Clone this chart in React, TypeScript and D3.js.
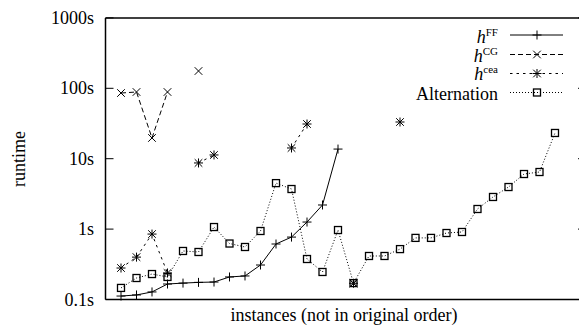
import React from "react";
import * as d3 from "d3";

const W = 579;
const H = 326;

const yTicks = [0.1, 1, 10, 100, 1000];
const yTickLabels = ["0.1s", "1s", "10s", "100s", "1000s"];

const hFF: (number | null)[] = [
  0.112, 0.116, 0.128, 0.166, 0.171, 0.175, 0.177, 0.209, 0.216, 0.309,
  0.614, 0.77, 1.26, 2.2, 13.7, null, null, null, null, null,
  null, null, null, null, null, null, null, null, null,
];
const hCG: (number | null)[] = [
  85.7, 88.6, 19.7, 88.6, null, 176, null, null, null, null,
  null, null, null, null, null, 0.17, null, null, null, null,
  null, null, null, null, null, null, null, null, null,
];
const hCea: (number | null)[] = [
  0.28, 0.4, 0.85, 0.238, null, 8.7, 11.3, null, null, null,
  null, 14.2, 31.1, null, null, 0.17, null, null, 33.2, null,
  null, null, null, null, null, null, null, null, null,
];
const alternation: (number | null)[] = [
  0.146, 0.202, 0.23, 0.209, 0.489, 0.473, 1.07, 0.624, 0.557, 0.94,
  4.5, 3.71, 0.376, 0.246, 0.97, 0.171, 0.415, 0.415, 0.52, 0.75,
  0.75, 0.88, 0.91, 1.93, 2.86, 3.96, 6.06, 6.47, 23.2,
];

const seriesNames = ["FF", "CG", "cea", "Alternation"];

type Marker = "plus" | "cross" | "star" | "square";

function MarkerShape({ type, x, y }: { type: Marker; x: number; y: number }) {
  const s = 4.5;
  const c = 3.8;
  const stroke = "#000";
  if (type === "plus") {
    return (
      <g stroke={stroke} strokeWidth={1}>
        <line x1={x - s} x2={x + s} y1={y} y2={y} />
        <line x1={x} x2={x} y1={y - s} y2={y + s} />
      </g>
    );
  }
  if (type === "cross") {
    return (
      <g stroke={stroke} strokeWidth={1}>
        <line x1={x - c} x2={x + c} y1={y - c} y2={y + c} />
        <line x1={x - c} x2={x + c} y1={y + c} y2={y - c} />
      </g>
    );
  }
  if (type === "star") {
    return (
      <g stroke={stroke} strokeWidth={1}>
        <line x1={x - s} x2={x + s} y1={y} y2={y} />
        <line x1={x} x2={x} y1={y - s} y2={y + s} />
        <line x1={x - c} x2={x + c} y1={y - c} y2={y + c} />
        <line x1={x - c} x2={x + c} y1={y + c} y2={y - c} />
      </g>
    );
  }
  const q = 3.5;
  return (
    <rect x={x - q} y={y - q} width={2 * q} height={2 * q} fill="none" stroke={stroke} strokeWidth={1.3} />
  );
}

export default function App() {
  const left = 105.5;
  const right = 586;
  const top = 17.9;
  const bottom = 299.5;

  const x = d3.scaleLinear().domain([-1, 30]).range([left, right]);
  const y = d3.scaleLog().domain([0.1, 1000]).range([bottom, top]);

  const series: { data: (number | null)[]; marker: Marker; dash: string }[] = [
    { data: hFF, marker: "plus", dash: "" },
    { data: hCG, marker: "cross", dash: "5,3" },
    { data: hCea, marker: "star", dash: "2.5,4" },
    { data: alternation, marker: "square", dash: "1,2" },
  ];

  const line = d3
    .line<number | null>()
    .defined((d) => d != null)
    .x((_, i) => x(i))
    .y((d) => y(d as number));

  const font = "'Liberation Serif', 'Times New Roman', serif";
  const legendRows = [35, 54.5, 73.5, 92.5];
  const textOffsets = [7.5, 7, 6, 7];

  return (
    <svg width={W} height={H} style={{ position: "absolute", left: 0, top: 0 }} fontFamily={font}>
      <rect width={W} height={H} fill="#fff" />
      <g stroke="#000" strokeWidth={1.5} fill="none">
        <line x1={left} x2={left} y1={top} y2={bottom} />
        <line x1={left} x2={right} y1={bottom} y2={bottom} />
        <line x1={left} x2={right} y1={top} y2={top} />
      </g>
      {yTicks.map((t, i) => (
        <g key={t}>
          <line x1={left} x2={left + 8} y1={y(t)} y2={y(t)} stroke="#000" strokeWidth={1} />
          <line x1={right - 8} x2={right} y1={y(t)} y2={y(t)} stroke="#000" strokeWidth={1} />
          <text x={94} y={y(t) + 6} textAnchor="end" fontSize={18} fill="#000">
            {yTickLabels[i]}
          </text>
        </g>
      ))}
      <text transform={`translate(25,159) rotate(-90)`} textAnchor="middle" fontSize={18} fill="#000">
        runtime
      </text>
      <text x={344} y={321} textAnchor="middle" fontSize={18} fill="#000">
        instances (not in original order)
      </text>
      {series.map((s, si) => (
        <g key={si}>
          <path d={line(s.data) || ""} fill="none" stroke="#000" strokeWidth={1} strokeDasharray={s.dash} />
          {s.data.map((d, i) =>
            d == null ? null : <MarkerShape key={i} type={s.marker} x={x(i)} y={y(d)} />
          )}
        </g>
      ))}
      {series.map((s, si) => {
        const ry = legendRows[si];
        return (
          <g key={"lg" + si}>
            {si < 3 ? (
              <text x={498} y={ry + textOffsets[si]} textAnchor="end" fill="#000" fontSize={18}>
                <tspan fontStyle="italic">h</tspan>
                <tspan fontSize={11} dy={-7}>
                  {seriesNames[si]}
                </tspan>
              </text>
            ) : (
              <text x={498} y={ry + textOffsets[si]} textAnchor="end" fill="#000" fontSize={18}>
                {seriesNames[si]}
              </text>
            )}
            <line x1={510} x2={563} y1={ry} y2={ry} stroke="#000" strokeWidth={1} strokeDasharray={s.dash} />
            <MarkerShape type={s.marker} x={537} y={ry} />
          </g>
        );
      })}
    </svg>
  );
}
